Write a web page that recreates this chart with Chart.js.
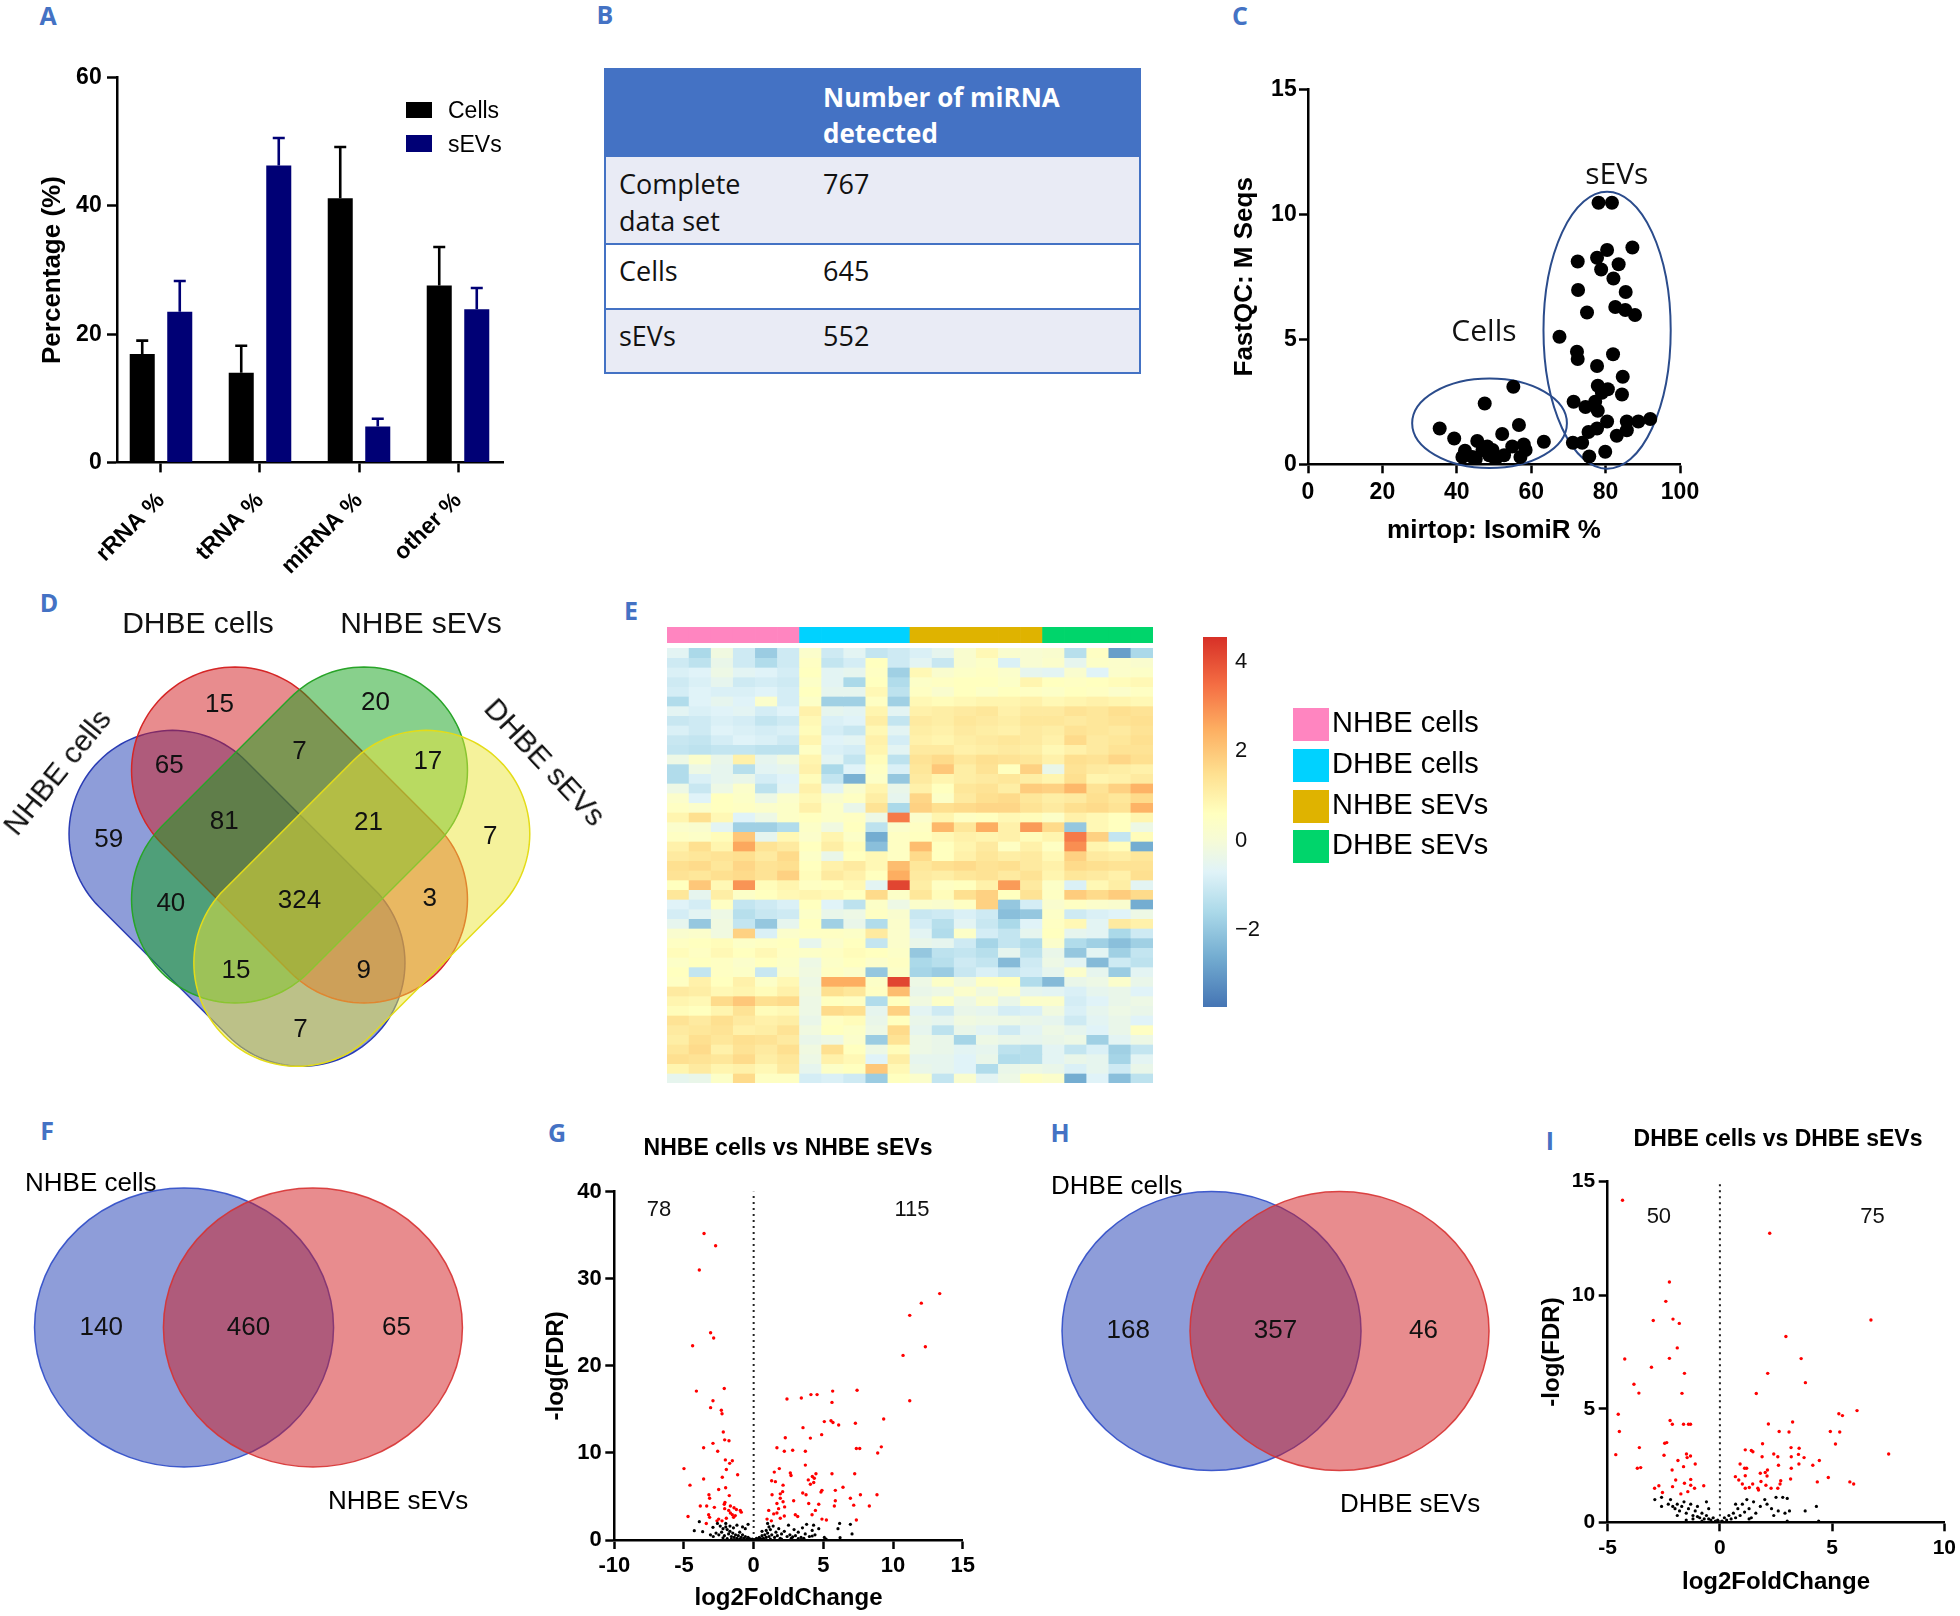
<!DOCTYPE html>
<html><head><meta charset="utf-8">
<script src="https://cdn.jsdelivr.net/npm/chart.js@4.4.1/dist/chart.umd.min.js"></script>
<style>
html,body{margin:0;padding:0;background:#fff;}
body{width:1960px;height:1616px;position:relative;overflow:hidden;font-family:'Liberation Sans',Arial,sans-serif;color:#111;}
.t{position:absolute;white-space:nowrap;}
.c{position:absolute;white-space:nowrap;transform:translate(-50%,-50%);}
.plab{position:absolute;white-space:nowrap;transform:translate(-50%,-50%);font:bold 25px 'Open Sans',sans-serif;color:#4472C4;}
</style></head><body>
<script>
// ---------------- DATA ----------------
// Panel A
const rnaCategories = ['rRNA %', 'tRNA %', 'miRNA %', 'other %'];
const cellsPct = [16.9, 14.0, 41.2, 27.6];
const cellsErr = [2.1, 4.2, 8.0, 6.0];
const sevsPct = [23.5, 46.3, 5.6, 23.9];
const sevsErr = [4.8, 4.3, 1.2, 3.3];
// Panel B
const tableRowLabels = ['Complete\ndata set', 'Cells', 'sEVs'];
const tableCounts = [767, 645, 552];
// Panel C
const cellsIsomiR = [35.4,39.3,42.2,41.5,44.2,45.5,47.5,46.9,48.2,49.6,50.4,52.2,52.7,55.2,54.9,56.7,57.1,58.0,58.5,63.4,48.7,45.1];
const cellsMSeqs  = [1.43,1.03,0.54,0.29,0.29,0.93,2.43,0.57,0.71,0.57,0.21,1.21,0.36,3.1,0.71,1.57,0.29,0.79,0.57,0.9,0.36,0.21];
const sevsIsomiR = [78.1,81.7,80.4,87.2,72.5,77.7,78.8,83.5,82.1,72.6,85.4,75.0,82.6,85.3,87.9,67.6,72.3,72.5,82.0,77.7,84.6,77.9,80.6,84.4,71.4,74.6,77.2,77.9,80.4,75.4,77.7,85.7,88.8,92.0,85.7,83.0,71.2,73.7,79.9,75.6,79.0];
const sevsMSeqs  = [10.46,10.46,8.57,8.67,8.11,8.26,7.79,8.0,7.43,6.97,6.89,6.07,6.29,6.17,5.97,5.1,4.5,4.21,4.4,3.93,3.5,3.14,3.0,2.79,2.5,2.29,2.5,2.14,1.71,1.29,1.43,1.71,1.71,1.81,1.36,1.14,0.86,0.86,0.5,0.31,2.86];
// Panel D (4-set Venn region counts)
const vennDSets = ['NHBE cells', 'DHBE cells', 'NHBE sEVs', 'DHBE sEVs'];
const vennDCounts = [15, 20, 65, 7, 17, 59, 81, 21, 7, 40, 324, 3, 15, 9, 7];
// Panel E heatmap (z-scores; rows top->bottom; cols: 6 NHBE cells, 5 DHBE cells, 6 NHBE sEVs, 5 DHBE sEVs)
const heatGroups = ['NHBE cells', 'DHBE cells', 'NHBE sEVs', 'DHBE sEVs'];
const heatGroupSizes = [6, 5, 6, 5];
const heatRows = [
[-0.6,-1.6,-0.2,-1.0,-1.9,-1.0, 0.3,-1.0,-0.6,-1.2,-1.0, -0.8,-0.5,0.2,0.8,0.2,0.1, 0.2,-1.4,0.5,-2.9,-1.6],
[-1.0,-1.3,-0.4,-1.0,-1.5,-1.0, 0.5,-1.2,-0.9,0.6,-1.0, -0.6,-1.1,0.2,0.4,-0.8,0.1, 0.3,-0.5,0.4,0.3,0.2],
[-0.8,-0.7,-0.3,-0.6,-0.7,-0.9, 0.6,-0.6,-0.5,0.5,-1.8, 0.8,0.2,0.4,0.5,0.3,-0.5, -0.6,0.2,-0.7,0.3,0.4],
[-1.0,-0.8,-0.5,-1.0,-0.9,-1.0, 0.4,-0.6,-1.6,0.6,-1.5, 0.4,0.5,0.6,0.6,0.4,0.9, 0.6,0.5,0.6,0.7,0.8],
[-0.9,-0.7,-0.8,-0.8,-0.7,-0.9, 0.6,-0.5,-0.5,0.8,-1.3, 0.5,0.2,0.6,0.4,0.6,0.5, 0.4,0.6,0.5,0.3,0.5],
[-1.5,-0.7,-0.5,-0.7,0.3,-0.9, 0.4,-1.8,-1.8,0.5,-1.8, 0.8,0.7,0.8,0.9,0.9,1.0, 0.8,0.9,1.0,0.9,0.8],
[-0.6,-0.8,-0.7,-0.6,-0.9,-0.7, 1.0,-0.5,-0.6,0.9,-0.6, 1.0,1.1,1.2,1.3,1.0,1.2, 1.2,1.4,1.3,1.5,1.4],
[-1.1,-1.0,-0.8,-0.9,-1.2,-1.0, 0.8,-0.8,-0.7,1.1,-1.2, 1.2,1.1,1.3,1.2,1.1,1.3, 1.3,1.2,1.3,1.4,1.5],
[-0.8,-1.0,-0.7,-0.8,-0.9,-0.8, 0.7,-0.9,-1.1,0.8,-0.6, 1.1,1.0,1.2,1.1,1.0,1.2, 1.1,1.4,1.3,1.2,1.4],
[-1.1,-1.2,-0.9,-0.7,-0.8,-1.0, 0.9,-0.7,-0.6,1.0,-0.9, 1.0,0.9,1.1,1.2,1.3,1.2, 1.0,1.6,1.2,1.3,1.5],
[-1.2,-1.3,-1.2,-1.2,-1.3,-1.3, 0.5,-0.8,-0.9,0.9,-0.6, 1.2,1.2,1.0,1.1,1.2,1.1, 0.8,1.0,1.2,1.4,1.4],
[-0.3,0.3,-0.4,1.0,-0.5,-0.2, 0.9,-0.6,-1.2,0.7,-1.3, 1.4,1.6,1.3,1.5,1.4,1.3, 1.0,1.5,1.4,1.7,1.5],
[-1.5,-0.3,-0.5,-1.4,-0.6,-0.5, 1.0,-1.6,-0.7,0.5,-0.8, 1.3,2.0,1.1,1.4,0.6,1.8, -0.4,1.4,1.2,1.1,1.0],
[-1.5,-0.8,-0.5,-0.4,-0.9,-0.7, 0.7,-1.2,-2.5,0.4,-2.0, 1.2,0.9,1.1,1.2,1.3,1.1, 0.9,1.5,0.9,1.0,1.2],
[-0.3,-1.1,-0.3,0.3,-1.3,-0.6, 1.0,-0.6,0.2,0.9,-0.4, 1.0,0.6,1.3,1.4,1.1,1.9, 1.8,2.3,1.4,1.8,2.4],
[0.3,-0.7,0.6,0.4,-0.3,0.3, 0.8,0.2,0.5,1.1,-0.5, 1.7,0.4,1.2,1.5,1.6,1.3, 1.1,1.2,1.5,1.3,1.6],
[0.5,0.3,0.6,0.5,0.3,0.4, 1.0,0.4,-0.4,1.4,-1.6, 1.8,1.5,1.6,1.7,1.7,1.4, 1.2,1.5,1.6,1.4,2.4],
[0.9,1.5,0.8,-0.7,-0.3,0.4, 0.6,0.4,0.5,-0.3,3.3, 0.3,0.9,0.5,0.6,0.8,0.7, 0.4,1.0,0.8,0.6,0.9],
[0.3,0.2,-0.6,-1.8,-1.8,-1.5, 0.4,-0.2,0.6,-1.3,0.3, 0.5,2.3,1.3,2.5,1.0,2.8, 1.6,-2.0,0.8,0.6,-0.3],
[0.5,0.4,0.7,2.0,-0.5,0.8, 0.3,0.9,0.4,-2.6,0.5, 0.6,0.8,1.0,0.9,1.0,0.7, 0.9,3.3,1.8,-1.2,0.7],
[1.0,1.5,0.9,2.6,1.4,1.2, 0.6,1.1,0.7,-2.2,0.5, 2.2,0.6,0.9,1.2,0.5,1.0, 0.5,3.0,0.9,0.7,-2.6],
[1.2,1.3,1.4,1.5,1.2,1.6, 0.4,-0.4,0.6,0.8,0.5, 1.6,0.6,1.0,1.3,1.1,1.2, 0.8,1.8,1.2,1.1,1.3],
[1.5,1.6,1.3,1.7,1.4,1.5, 0.6,1.0,1.2,0.8,2.2, 1.3,1.5,1.6,1.4,1.5,1.2, 1.0,1.6,1.5,1.4,1.4],
[1.4,1.3,1.5,1.6,1.4,1.8, 0.7,1.2,1.0,0.6,2.5, 1.2,1.1,1.3,1.4,1.2,1.4, 0.9,1.3,1.2,1.0,1.5],
[0.6,2.0,0.8,2.9,0.7,0.9, 0.5,0.6,0.8,-0.6,4.2, 1.1,0.5,0.6,1.0,2.8,1.2, 0.4,-0.8,0.8,1.1,-0.6],
[1.3,-0.5,1.1,0.4,0.6,0.8, 0.9,0.8,0.6,1.6,0.4, 1.3,0.7,1.5,1.8,0.6,1.4, 0.5,1.9,1.6,1.9,1.6],
[-0.7,-0.9,0.5,-1.2,-1.0,-0.8, 0.6,-0.7,-1.3,0.4,-0.3, 0.3,0.2,0.5,1.8,-2.0,-0.9, 0.2,0.5,0.3,0.2,-2.6],
[-0.9,-0.6,-0.3,-1.4,-1.1,-1.0, 0.4,-0.4,-0.3,0.5,0.2, -1.1,-1.0,-0.8,-1.0,-2.2,-2.0, 0.4,-1.0,-0.8,-0.7,-0.3],
[-0.5,-2.0,-0.2,-1.2,-2.0,-0.5, 0.6,-1.8,-0.4,-1.5,0.3, -0.9,-1.4,-0.6,-1.1,-1.6,-0.7, 0.5,0.8,-0.6,1.2,1.0],
[0.2,0.3,-0.2,1.8,-0.8,0.3, 0.5,0.5,0.4,1.2,0.3, -0.6,-1.5,0.4,-0.9,-1.2,-0.5, 0.6,-0.5,-0.6,-1.6,-1.0],
[0.5,0.6,0.7,0.4,0.5,0.6, -0.5,0.3,0.6,-1.2,0.3, -0.4,-0.5,-1.0,-1.7,-1.2,-1.5, 0.3,-1.5,-1.8,-2.2,-1.8],
[0.7,0.5,0.8,0.6,0.8,0.5, 0.4,0.5,0.7,0.6,0.4, -2.0,-1.3,-1.2,-1.4,-0.5,-1.3, -0.4,-2.0,-0.6,-1.8,-1.2],
[0.4,0.6,0.5,0.3,0.6,0.4, -0.3,0.4,0.6,0.3,0.5, -1.6,-1.4,-1.0,-1.2,-2.3,-1.0, -0.3,-0.6,-2.3,-1.0,-1.3],
[0.6,-1.2,0.5,0.4,-1.1,0.3, -0.2,0.5,0.3,-2.0,0.4, -1.7,-1.9,-1.1,-0.8,-1.1,-0.9, -0.5,0.3,-0.5,-1.9,-0.6],
[0.5,1.0,0.6,1.0,0.4,0.8, -0.3,2.5,2.5,0.4,4.2, -0.3,0.4,-0.2,0.5,0.6,-1.5, -2.3,-0.4,-0.3,0.3,-0.4],
[1.2,1.1,0.8,0.9,0.7,1.0, -0.2,1.5,1.3,0.5,2.2, -0.4,-0.3,0.3,-0.2,0.3,-0.5, -0.6,-0.8,-0.5,-0.4,-0.7],
[0.9,0.8,1.6,2.0,1.5,1.6, -0.3,0.6,0.5,-1.5,0.6, -0.2,0.4,-0.3,0.2,-0.4,0.3, 0.3,-0.9,-0.7,-0.4,-0.3],
[0.7,0.6,0.9,1.4,0.7,0.8, -0.3,1.6,1.5,-0.5,1.8, -0.6,-1.0,-0.4,-0.5,-0.9,-0.8, -0.2,-0.8,-0.5,-0.3,-0.4],
[1.4,1.2,1.5,1.2,1.0,1.1, -0.4,0.5,0.7,-0.4,0.6, -0.4,-0.5,-0.2,-0.3,-0.3,-0.4, -0.5,-1.0,-0.6,-0.4,-0.7],
[1.2,1.3,1.4,1.0,1.1,1.4, -0.2,0.6,0.4,-0.3,1.6, -0.5,-1.3,-0.4,-0.6,-1.0,-0.6, -0.3,-0.5,-0.7,-0.4,0.5],
[1.1,1.5,1.3,1.5,1.4,1.2, -0.4,-0.3,0.3,-1.9,1.4, -0.3,-0.4,-1.7,-0.3,-0.4,-0.5, -0.4,-0.3,-1.8,-0.6,-0.3],
[1.3,1.6,1.0,1.4,1.2,1.5, -0.2,1.5,0.6,-0.3,0.7, -0.3,-0.4,-0.6,-0.5,-1.3,-1.4, -0.6,-1.2,-0.8,-1.8,-1.2],
[1.5,1.4,1.3,1.6,1.1,1.3, -0.3,1.0,0.8,-0.7,1.1, -0.5,-0.5,-0.7,-0.4,-1.5,-1.4, -0.6,-0.4,-0.5,-1.7,-0.6],
[0.9,1.2,0.9,1.0,0.8,1.2, -0.5,0.4,0.6,2.0,0.8, -0.4,-0.5,-0.7,-1.5,-0.4,-0.3, -0.4,-0.8,-0.5,-1.0,-0.4],
[-0.5,-0.4,0.4,1.6,0.5,0.5, -0.9,-0.8,-1.0,-1.9,0.6, 0.3,-1.2,0.2,-0.6,-0.3,0.5, 0.3,-2.6,-0.7,-2.2,-1.3]
];
const colorbarTicks = [-2, 0, 2, 4];
// Panels F, H
const vennFSets = ['NHBE cells', 'NHBE sEVs'];
const vennFCounts = [140, 460, 65];
const vennHSets = ['DHBE cells', 'DHBE sEVs'];
const vennHCounts = [168, 357, 46];
// Panel G volcano: [log2FC, -log(FDR)]
const gCounts = [78, 115];
const gSig = [[-3.56,35.2],[-2.73,33.8],[-3.90,31.0],[-3.09,23.8],[-2.87,23.2],[-4.38,22.3],[-4.11,17.1],[-2.11,17.4],[-2.92,16.0],[-3.09,15.2],[-2.32,14.9],[-2.27,14.5],[-2.18,12.4],[-2.08,11.5],[-1.77,11.4],[-2.92,11.1],[-3.59,10.6],[-2.58,10.2],[-2.03,9.2],[-1.53,9.1],[-1.72,8.8],[-1.96,8.1],[-5.0,8.2],[-1.15,7.5],[-2.25,7.2],[-3.59,7.0],[-4.57,6.3],[-2.01,6.0],[-2.51,5.8],[-3.21,5.2],[-3.16,4.8],[-1.75,5.1],[-2.06,4.3],[-2.11,4.1],[-3.83,3.9],[-3.37,3.9],[-2.82,3.75],[-1.67,3.9],[-1.41,3.7],[-2.08,3.6],[-1.24,3.5],[-1.79,3.4],[-0.96,3.4],[-0.89,3.2],[-1.67,3.1],[-4.71,2.7],[-3.23,2.9],[-1.32,2.8],[-1.53,2.9],[-1.96,2.5],[-3.16,2.6],[-2.51,2.4],[-2.63,2.2],[-2.27,2.2],[-1.44,2.6],[-3.40,1.9],
[13.35,28.3],[12.03,27.2],[11.2,25.8],[12.32,22.2],[10.72,21.2],[11.2,16.0],[2.39,16.2],[3.42,16.3],[4.11,16.7],[4.55,16.7],[5.67,17.1],[7.42,17.2],[5.62,15.8],[5.07,13.6],[5.55,13.7],[5.69,13.5],[6.1,13.2],[7.30,13.4],[9.33,13.9],[3.54,12.9],[2.27,11.75],[4.07,11.7],[4.88,12.1],[1.67,10.6],[2.2,10.2],[2.8,10.3],[3.71,10.2],[7.37,10.5],[7.61,10.5],[9.16,10.7],[8.9,10.0],[1.84,8.2],[3.71,8.6],[1.48,7.8],[2.63,7.7],[2.68,7.4],[4.47,7.6],[5.62,7.6],[7.25,7.6],[4.21,7.3],[4.35,7.1],[3.92,6.9],[1.29,6.8],[1.56,6.7],[4.07,6.4],[4.31,6.6],[2.11,6.3],[6.41,6.05],[5.86,5.7],[4.9,5.7],[4.83,5.5],[2.08,5.55],[1.91,5.3],[3.52,5.4],[3.76,5.2],[1.32,5.2],[8.85,5.2],[7.66,5.2],[1.91,4.8],[6.94,4.8],[2.11,4.4],[2.87,4.5],[5.86,4.5],[1.67,4.2],[3.95,4.2],[4.67,4.1],[5.79,3.9],[7.18,4.0],[8.3,3.9],[2.22,3.8],[1.79,3.6],[1.08,3.4],[4.43,3.4],[1.67,3.1],[1.44,3.0],[2.99,2.9],[3.16,2.7],[4.19,2.9],[2.2,2.75],[0.96,2.4],[1.27,2.2],[1.91,2.5],[4.9,2.4],[5.22,2.3],[7.37,2.3]];
const gNs = [[-3.9,2.1],[-3.66,0.96],[-4.26,1.07],[-2.92,1.45],[-2.6,1.9],[-2.4,1.6],[-2.2,1.3],[-2.0,1.5],[-1.9,1.2],[-1.7,1.0],[-2.7,0.8],[-2.5,0.6],[-2.3,0.9],[-2.1,0.5],[-1.8,0.7],[-1.6,0.4],[-1.5,0.8],[-1.4,0.3],[-1.3,0.6],[-1.2,0.2],[-1.1,0.5],[-1.0,0.9],[-0.9,0.3],[-0.8,0.6],[-0.7,0.2],[-0.6,0.4],[-0.5,0.1],[-0.4,0.3],[-0.3,0.15],[-0.2,0.05],[-0.1,0.1],[-0.6,1.3],[-0.8,1.5],[-1.2,1.7],[-2.9,0.4],[-3.1,0.6],[-2.2,0.25],[-1.9,0.15],[-1.6,0.1],[-1.0,0.1],[-0.4,1.8],[-1.45,1.4],[-2.0,1.9],[-1.7,1.6],
[0.1,0.05],[0.2,0.2],[0.3,0.1],[0.4,0.3],[0.5,0.15],[0.6,0.5],[0.7,0.2],[0.8,0.6],[0.9,0.3],[1.0,0.8],[1.1,0.4],[1.2,1.2],[1.3,0.6],[1.4,1.6],[1.5,0.3],[1.6,0.9],[1.7,0.5],[1.8,1.3],[1.9,0.2],[2.0,0.7],[2.2,1.0],[2.4,0.4],[2.5,1.7],[2.6,0.6],[2.7,0.2],[2.9,1.2],[3.0,0.5],[3.2,0.9],[3.4,0.3],[3.5,1.4],[3.7,0.7],[3.8,1.8],[4.0,0.4],[4.2,1.1],[4.4,0.6],[4.3,1.7],[4.67,1.3],[4.2,0.46],[5.07,0.3],[5.2,0.1],[6.17,1.9],[6.05,1.3],[6.2,0.27],[6.94,1.8],[7.06,0.7],[1.0,1.9],[0.6,1.0],[3.2,0.15],[2.0,0.1],[1.2,0.1],[1.1,1.5],[2.8,0.35],[3.6,0.2],[0.9,1.1]];
// Panel I volcano
const iCounts = [50, 75];
const iSig = [[-4.34,14.18],[2.22,12.73],[-2.25,10.58],[-2.41,9.73],[-2.97,8.89],[-2.09,8.95],[-1.81,8.76],[6.73,8.91],[2.94,8.18],[-1.90,7.68],[-4.24,7.19],[-2.25,7.22],[3.62,7.21],[-3.05,6.83],[-1.58,6.56],[2.13,6.56],[-3.83,6.08],[3.81,6.15],[-3.61,5.69],[-1.69,5.68],[1.62,5.67],[6.11,4.92],[-4.53,4.76],[5.3,4.78],[5.46,4.7],[-2.22,4.48],[3.24,4.42],[-2.12,4.32],[-1.62,4.32],[-1.4,4.32],[-1.31,4.32],[2.16,4.33],[-4.48,4.0],[2.64,4.0],[3.08,3.98],[4.92,4.0],[5.34,3.98],[-2.37,3.51],[-2.46,3.48],[1.9,3.46],[5.15,3.45],[-3.59,3.29],[1.13,3.19],[1.4,3.16],[1.47,3.11],[3.17,3.29],[3.53,3.26],[-4.64,2.98],[-2.49,2.95],[-1.49,3.01],[-1.31,2.92],[-1.46,2.85],[7.52,3.01],[2.4,3.01],[1.88,2.89],[2.58,2.89],[3.18,2.89],[3.5,2.99],[-1.87,2.72],[3.75,2.85],[-1.1,2.57],[0.9,2.57],[4.43,2.72],[2.61,2.51],[-1.62,2.45],[4.14,2.51],[3.52,2.57],[-3.68,2.38],[-3.53,2.41],[1.1,2.38],[1.19,2.38],[2.12,2.3],[2.02,2.19],[-2.13,2.3],[3.18,2.38],[1.8,2.16],[0.69,2.01],[1.13,2.05],[2.1,2.04],[4.83,1.97],[3.15,1.91],[0.84,1.86],[2.71,1.83],[-1.97,1.86],[-1.3,1.89],[5.79,1.78],[5.96,1.69],[4.34,1.78],[-1.58,1.72],[1.83,1.8],[1.0,1.69],[1.46,1.69],[-2.72,1.61],[-1.3,1.63],[-0.72,1.61],[2.05,1.63],[2.68,1.69],[-2.91,1.5],[-2.11,1.57],[1.13,1.5],[1.31,1.53],[1.69,1.5],[2.28,1.5],[2.58,1.5],[-1.13,1.5],[-1.43,1.35],[-2.56,1.31],[-1.74,1.25],[1.72,1.42]];
const iNs = [[-2.9,1.0],[-2.6,1.1],[-2.6,0.7],[-2.2,1.0],[-2.1,0.7],[-2.0,0.6],[-1.9,0.8],[-1.8,0.5],[-1.7,0.7],[-1.6,0.9],[-1.5,0.4],[-1.4,0.6],[-1.3,0.8],[-1.2,0.3],[-1.1,0.5],[-1.0,0.7],[-0.9,0.2],[-0.8,0.4],[-0.7,0.15],[-0.6,0.3],[-0.5,0.6],[-0.4,0.1],[-0.3,0.2],[-0.2,0.05],[-0.1,0.1],[-1.5,0.1],[-1.2,0.15],[-0.6,0.9],[-2.3,0.8],[-1.9,0.3],[-1.0,0.25],[-0.8,0.05],[-0.5,0.15],
[0.1,0.05],[0.2,0.2],[0.3,0.1],[0.4,0.3],[0.5,0.15],[0.6,0.4],[0.7,0.2],[0.8,0.6],[0.9,0.3],[1.0,0.8],[1.1,0.45],[1.2,1.0],[1.3,0.6],[1.4,0.2],[1.5,0.9],[1.6,0.4],[1.8,0.7],[2.0,1.0],[2.1,0.8],[2.3,0.6],[2.5,1.1],[2.6,0.5],[2.8,1.1],[2.9,0.4],[3.0,1.05],[3.1,0.5],[3.8,0.5],[4.3,0.7],[4.4,0.05],[0.7,0.8],[1.3,0.15],[2.4,0.3],[3.0,0.05]];

// ---------------- SETUP ----------------
Chart.defaults.font.family = "'Liberation Sans', Arial, sans-serif";
Chart.defaults.color = '#000';
Chart.defaults.animation = false;
Chart.defaults.responsive = false;
Chart.defaults.maintainAspectRatio = false;
Chart.defaults.plugins.legend.display = false;
Chart.defaults.plugins.tooltip.enabled = false;

function mkCanvas(left, top, w, h) {
  const c = document.createElement('canvas');
  c.width = w; c.height = h;
  c.style.cssText = 'position:absolute;left:' + left + 'px;top:' + top + 'px;width:' + w + 'px;height:' + h + 'px;';
  document.body.appendChild(c);
  return c;
}
function addText(txt, cls, x, y, css) {
  const d = document.createElement('div');
  d.className = cls; d.textContent = txt;
  d.style.left = x + 'px'; d.style.top = y + 'px';
  if (css) d.style.cssText += css;
  document.body.appendChild(d);
  return d;
}
function axis(o) {
  return {
    type: o.type || 'linear', min: o.min, max: o.max, offset: false, reverse: false,
    border: {display: true, color: '#000', width: 2.5},
    grid: {display: true, offset: false, drawOnChartArea: false, drawTicks: true, tickLength: o.tl || 10, tickWidth: 2.5, tickColor: '#000'},
    ticks: Object.assign({stepSize: o.step, color: '#000', font: {size: o.fs || 22, weight: 'bold'}, padding: o.pad == null ? 4 : o.pad, autoSkip: false, maxRotation: 0, minRotation: 0}, o.ticks || {}),
    title: {display: !!o.title, text: o.title || '', color: '#000', font: {size: o.tfs || 24, weight: o.tw || 'bold'}, padding: o.tpad || {top: 0, bottom: 0}},
    afterFit: o.afterFit,
    afterBuildTicks: o.afterBuildTicks
  };
}
function textPlugin(items) {
  return {
    id: 'textMarks',
    afterDatasetsDraw(chart) {
      const {ctx, scales: {x, y}} = chart;
      items.forEach(it => {
        ctx.save();
        ctx.font = it.font; ctx.fillStyle = it.color || '#111';
        ctx.textAlign = 'center'; ctx.textBaseline = 'middle';
        ctx.translate(x.getPixelForValue(it.x), y.getPixelForValue(it.y));
        ctx.fillText(String(it.text), 0, 0);
        ctx.restore();
      });
    }
  };
}

// ---------------- PANEL LETTERS ----------------
[['A',48,15],['B',605,14],['C',1240,15],['D',49,602],['E',631,610],['F',47,1130],['G',557,1132],['H',1060,1132],['I',1550,1140]]
  .forEach(p => addText(p[0], 'plab', p[1], p[2]));

// ---------------- PANEL A ----------------
const errorBars = {
  id: 'errorBars',
  afterDatasetsDraw(chart) {
    const {ctx, scales: {y}} = chart;
    chart.data.datasets.forEach((ds, di) => {
      const meta = chart.getDatasetMeta(di);
      meta.data.forEach((bar, i) => {
        const top = y.getPixelForValue(ds.data[i].y + ds.errors[i]);
        ctx.save();
        ctx.strokeStyle = ds.backgroundColor; ctx.lineWidth = 2.6;
        ctx.beginPath();
        ctx.moveTo(bar.x, bar.y); ctx.lineTo(bar.x, top);
        ctx.moveTo(bar.x - 6, top); ctx.lineTo(bar.x + 6, top);
        ctx.stroke(); ctx.restore();
      });
    });
  }
};
new Chart(mkCanvas(0, 0, 540, 640), {
  type: 'bar',
  data: {datasets: [
    {label: 'Cells', data: cellsPct.map((v, i) => ({x: i, y: v})), errors: cellsErr, backgroundColor: '#000000', borderWidth: 0, categoryPercentage: 0.758, barPercentage: 0.667},
    {label: 'sEVs', data: sevsPct.map((v, i) => ({x: i, y: v})), errors: sevsErr, backgroundColor: '#000075', borderWidth: 0, categoryPercentage: 0.758, barPercentage: 0.667}
  ]},
  options: {
    devicePixelRatio: 1,
    layout: {padding: {left: 20, top: 77.7, right: 37, bottom: 0}},
    scales: {
      x: axis({min: -0.4444, max: 3.4545, pad: 15, fs: 23, ticks: {minRotation: 45, maxRotation: 45, callback: v => rnaCategories[v]},
        afterBuildTicks: s => { s.ticks = rnaCategories.map((c, i) => ({value: i})); },
        afterFit: s => { s.height = 177.6; }}),
      y: axis({min: 0, max: 60, step: 20, pad: 5.3, fs: 23, title: 'Percentage (%)', tfs: 26, tw: 'bold', tpad: {top: 17.4, bottom: 0},
        afterFit: s => { s.width = 97; }})
    }
  },
  plugins: [errorBars]
});
// legend A
(function () {
  const items = [['Cells', '#000000', 101.7, 110], ['sEVs', '#000075', 135, 144]];
  items.forEach(it => {
    const b = document.createElement('div');
    b.style.cssText = 'position:absolute;left:406px;top:' + it[2] + 'px;width:26px;height:16.7px;background:' + it[1] + ';';
    document.body.appendChild(b);
    addText(it[0], 't', 448, it[3] - 14, 'font:23px "Liberation Sans",Arial,sans-serif;color:#000;line-height:28px;');
  });
})();

// ---------------- PANEL B (table) ----------------
(function () {
  const L = 604, T = 68, W = 537;
  function box(top, h, bg) {
    const d = document.createElement('div');
    d.style.cssText = 'position:absolute;left:' + L + 'px;top:' + top + 'px;width:' + W + 'px;height:' + h + 'px;background:' + bg + ';';
    document.body.appendChild(d);
  }
  box(68, 89, '#4472C4'); box(157, 87, '#E9EBF5'); box(244, 65, '#FFFFFF'); box(309, 65, '#E9EBF5');
  box(243, 2, '#4472C4'); box(308, 2, '#4472C4');
  const fr = document.createElement('div');
  fr.style.cssText = 'position:absolute;left:' + L + 'px;top:' + T + 'px;width:' + W + 'px;height:306px;border:2px solid #4472C4;box-sizing:border-box;';
  document.body.appendChild(fr);
  addText('Number of miRNA\ndetected', 't', 823, 79, 'font:bold 26px "Open Sans",sans-serif;color:#fff;line-height:36px;white-space:pre;');
  const rowTops = [165, 252, 317];
  tableRowLabels.forEach((lab, i) => {
    addText(lab, 't', 619, rowTops[i], 'font:27px "Open Sans",sans-serif;color:#111;line-height:37px;white-space:pre;');
    addText(String(tableCounts[i]), 't', 823, rowTops[i], 'font:27px "Open Sans",sans-serif;color:#111;line-height:37px;');
  });
})();

// ---------------- PANEL C ----------------
const clusterEllipses = {
  id: 'clusterEllipses',
  beforeDatasetsDraw(chart) {
    const {ctx, scales: {x, y}} = chart;
    const ells = [{cx: 48.8, cy: 1.64, rx: 20.8, ry: 1.79}, {cx: 80.4, cy: 5.36, rx: 17.1, ry: 5.54}];
    ctx.save(); ctx.strokeStyle = '#2B4C8C'; ctx.lineWidth = 2;
    ells.forEach(e => {
      const px = x.getPixelForValue(e.cx), py = y.getPixelForValue(e.cy);
      const rx = Math.abs(x.getPixelForValue(e.cx + e.rx) - px), ry = Math.abs(y.getPixelForValue(e.cy + e.ry) - py);
      ctx.beginPath(); ctx.ellipse(px, py, rx, ry, 0, 0, Math.PI * 2); ctx.stroke();
    });
    ctx.restore();
  }
};
new Chart(mkCanvas(1225, 30, 480, 530), {
  type: 'scatter',
  data: {datasets: [
    {label: 'Cells', data: cellsIsomiR.map((v, i) => ({x: v, y: cellsMSeqs[i]})), pointRadius: 7, backgroundColor: '#000', borderWidth: 0},
    {label: 'sEVs', data: sevsIsomiR.map((v, i) => ({x: v, y: sevsMSeqs[i]})), pointRadius: 7, backgroundColor: '#000', borderWidth: 0}
  ]},
  options: {
    devicePixelRatio: 1,
    layout: {padding: {left: 0, top: 59.3, right: 23, bottom: 0}},
    scales: {
      x: axis({min: 0, max: 100, step: 20, tl: 9, pad: 5.8, fs: 23, title: 'mirtop: IsomiR %', tfs: 26, tpad: {top: 0, bottom: 14}, afterFit: s => { s.height = 95.7; }}),
      y: axis({min: 0, max: 15, step: 5, tl: 9, pad: 2.3, fs: 23, title: 'FastQC: M Seqs', tfs: 26, tpad: {top: 4.4, bottom: 0}, afterFit: s => { s.width = 83; }})
    }
  },
  plugins: [clusterEllipses, textPlugin([
    {x: 47.3, y: 5.29, text: 'Cells', font: '30px "Open Sans", sans-serif'},
    {x: 83, y: 11.54, text: 'sEVs', font: '30px "Open Sans", sans-serif'}
  ])]
});

// ---------------- PANEL D (4-set Venn) ----------------
(function () {
  const shapes = [
    {cx: -0.604, cy: -0.612, ang: -45, fill: 'rgba(30,60,180,0.5)', stroke: '#2a3cb4'},
    {cx: 0, cy: 0, ang: -45, fill: 'rgba(210,25,30,0.5)', stroke: '#d52626'},
    {cx: 0, cy: 0, ang: 45, fill: 'rgba(17,161,25,0.5)', stroke: '#28a428'},
    {cx: 0.602, cy: -0.612, ang: 45, fill: 'rgba(235,229,55,0.5)', stroke: '#e4dc18'}
  ];
  const R = 1, HL = 0.881;
  const anchors = [[-0.773,1.256],[0.735,1.278],[-1.259,0.667],[0,0.805],[1.24,0.708],[-1.843,-0.042],[-0.728,0.129],[0.667,0.119],[1.844,-0.016],[-1.243,-0.667],[0,-0.635],[1.259,-0.612],[-0.613,-1.311],[0.621,-1.311],[0.01,-1.884]];
  const capsules = {
    id: 'capsules',
    beforeDatasetsDraw(chart) {
      const {ctx, scales: {x, y}} = chart;
      shapes.forEach(s => {
        const a = s.ang * Math.PI / 180, ux = Math.cos(a), uy = Math.sin(a);
        const e1 = [s.cx + HL * ux, s.cy + HL * uy], e2 = [s.cx - HL * ux, s.cy - HL * uy];
        ctx.save(); ctx.beginPath();
        const N = 60;
        for (let i = 0; i <= N; i++) {
          const t = a - Math.PI / 2 + Math.PI * i / N;
          const px = x.getPixelForValue(e1[0] + R * Math.cos(t)), py = y.getPixelForValue(e1[1] + R * Math.sin(t));
          if (i === 0) ctx.moveTo(px, py); else ctx.lineTo(px, py);
        }
        for (let i = 0; i <= N; i++) {
          const t = a + Math.PI / 2 + Math.PI * i / N;
          ctx.lineTo(x.getPixelForValue(e2[0] + R * Math.cos(t)), y.getPixelForValue(e2[1] + R * Math.sin(t)));
        }
        ctx.closePath();
        ctx.fillStyle = s.fill; ctx.fill();
        ctx.strokeStyle = s.stroke; ctx.lineWidth = 1.5; ctx.stroke();
        ctx.restore();
      });
    }
  };
  new Chart(mkCanvas(0, 640, 560, 460), {
    type: 'scatter',
    data: {datasets: [{data: anchors.map((p, i) => ({x: p[0], y: p[1], n: vennDCounts[i]})), pointRadius: 0}]},
    options: {
      devicePixelRatio: 1,
      layout: {padding: 0, autoPadding: false},
      scales: {x: {display: false, min: -2.894, max: 2.517}, y: {display: false, min: -2.560, max: 1.884}}
    },
    plugins: [capsules, textPlugin(anchors.map((p, i) => ({x: p[0], y: p[1], text: vennDCounts[i], font: '26px "Liberation Sans", Arial, sans-serif', color: '#111'})))]
  });
  const f = 'font:30px "Liberation Sans",Arial,sans-serif;color:#111;';
  addText(vennDSets[1], 'c', 198, 623, f);
  addText(vennDSets[2], 'c', 421, 623, f);
  addText(vennDSets[0], 'c', 57, 772, f + 'transform:translate(-50%,-50%) rotate(-51deg);');
  addText(vennDSets[3], 'c', 545, 762, f + 'transform:translate(-50%,-50%) rotate(47deg);');
})();

// ---------------- PANEL E (heatmap) ----------------
const zMin = -3.73, zMax = 4.56;
const zStops = [[-3.73,'#4575b4'],[-2.6,'#74add1'],[-1.6,'#abd9e9'],[-0.7,'#e0f3f8'],[0,'#f6fbd6'],[0.6,'#ffffbf'],[1.5,'#fee090'],[2.5,'#fdae61'],[3.5,'#f46d43'],[4.56,'#d73027']];
function hex2rgb(h) { return [parseInt(h.substr(1,2),16), parseInt(h.substr(3,2),16), parseInt(h.substr(5,2),16)]; }
function zColor(v) {
  if (v <= zStops[0][0]) return zStops[0][1];
  for (let i = 1; i < zStops.length; i++) {
    if (v <= zStops[i][0]) {
      const t = (v - zStops[i-1][0]) / (zStops[i][0] - zStops[i-1][0]);
      const a = hex2rgb(zStops[i-1][1]), b = hex2rgb(zStops[i][1]);
      return 'rgb(' + a.map((c, k) => Math.round(c + (b[k] - c) * t)).join(',') + ')';
    }
  }
  return zStops[zStops.length - 1][1];
}
const groupColors = ['#FF85C0', '#00D2FF', '#DFB300', '#00D56B'];
const heatColGroup = heatGroupSizes.flatMap((n, g) => Array.from({length: n}, () => g));
const heatColLabels = heatColGroup.map((g, i) => heatGroups[g] + ' ' + (i + 1));
// annotation bar
new Chart(mkCanvas(667, 627, 486, 16), {
  type: 'bar',
  data: {labels: heatColLabels, datasets: [{data: heatColGroup.map(() => 1), backgroundColor: heatColGroup.map(g => groupColors[g]), borderWidth: 0, barPercentage: 1, categoryPercentage: 1}]},
  options: {devicePixelRatio: 1, layout: {padding: 0}, scales: {x: {display: false}, y: {display: false, min: 0, max: 1}}}
});
// heatmap body
new Chart(mkCanvas(667, 648, 486, 435), {
  type: 'bar',
  data: {labels: heatColLabels, datasets: heatRows.map((row, r) => ({
    label: 'miRNA ' + (r + 1), data: row.map(() => 1), backgroundColor: row.map(zColor),
    borderWidth: 0, barPercentage: 1, categoryPercentage: 1
  }))},
  options: {devicePixelRatio: 1, layout: {padding: 0},
    scales: {x: {display: false, stacked: true}, y: {display: false, stacked: true, reverse: true, min: 0, max: heatRows.length}}}
});
// colorbar
new Chart(mkCanvas(1195, 630, 100, 390), {
  type: 'bar',
  data: {labels: ['z'], datasets: [{data: [[zMin, zMax]], borderWidth: 0, barPercentage: 1, categoryPercentage: 1,
    backgroundColor: c => {
      const ch = c.chart; const ys = ch.scales.y;
      if (!ch.chartArea || !ys) return '#ffffbf';
      const g = ch.ctx.createLinearGradient(0, ys.getPixelForValue(zMin), 0, ys.getPixelForValue(zMax));
      zStops.forEach(s => g.addColorStop((s[0] - zMin) / (zMax - zMin), s[1]));
      return g;
    }}]},
  options: {devicePixelRatio: 1,
    layout: {padding: {left: 8, top: 7, right: 8, bottom: 13}},
    scales: {
      x: {display: false},
      y: {position: 'right', min: zMin, max: zMax, border: {display: false}, grid: {display: false, drawTicks: false},
        ticks: {padding: 8, color: '#111', font: {size: 22}, callback: v => (v < 0 ? '\u2212' + Math.abs(v) : String(v))},
        afterBuildTicks: s => { s.ticks = colorbarTicks.map(v => ({value: v})); },
        afterFit: s => { s.width = 60; s.paddingTop = 0; s.paddingBottom = 0; }}
    }}
});
// legend E
(function () {
  const tops = [708, 749, 790, 830];
  heatGroups.forEach((g, i) => {
    const b = document.createElement('div');
    b.style.cssText = 'position:absolute;left:1293px;top:' + tops[i] + 'px;width:36px;height:33px;background:' + groupColors[i] + ';';
    document.body.appendChild(b);
    addText(g, 't', 1332, tops[i] - 3, 'font:29px "Liberation Sans",Arial,sans-serif;color:#000;line-height:34px;');
  });
})();

// ---------------- PANELS F & H (2-set Venn) ----------------
function venn2(canvas, xr, yr, d, counts) {
  const circ = {
    id: 'circ',
    beforeDatasetsDraw(chart) {
      const {ctx, scales: {x, y}} = chart;
      [[-d, 'rgba(30,60,180,0.5)', 'rgba(45,75,200,0.9)'], [d, 'rgba(210,25,30,0.5)', 'rgba(215,50,50,0.9)']].forEach(c => {
        const px = x.getPixelForValue(c[0]), py = y.getPixelForValue(0);
        const rx = Math.abs(x.getPixelForValue(c[0] + 1) - px), ry = Math.abs(y.getPixelForValue(0.933) - py);
        ctx.save(); ctx.beginPath(); ctx.ellipse(px, py, rx, ry, 0, 0, Math.PI * 2);
        ctx.fillStyle = c[1]; ctx.fill(); ctx.strokeStyle = c[2]; ctx.lineWidth = 1.5; ctx.stroke(); ctx.restore();
      });
    }
  };
  const anchors = [-0.985, 0, 0.99];
  new Chart(canvas, {
    type: 'scatter',
    data: {datasets: [{data: anchors.map((a, i) => ({x: a, y: 0, n: counts[i]})), pointRadius: 0}]},
    options: {devicePixelRatio: 1, layout: {padding: 0, autoPadding: false},
      scales: {x: {display: false, min: xr[0], max: xr[1]}, y: {display: false, min: yr[0], max: yr[1]}}},
    plugins: [circ, textPlugin(anchors.map((a, i) => ({x: a, y: 0, text: counts[i], font: '26px "Liberation Sans", Arial, sans-serif', color: '#111'})))]
  });
}
venn2(mkCanvas(0, 1150, 520, 466), [-1.662, 1.816], [-1.930, 1.187], 0.431, vennFCounts);
venn2(mkCanvas(1020, 1150, 510, 466), [-1.709, 1.702], [-1.906, 1.211], 0.428, vennHCounts);
const vf = 'font:26px "Liberation Sans",Arial,sans-serif;color:#000;line-height:30px;';
addText(vennFSets[0], 't', 25, 1167, vf);
addText(vennFSets[1], 't', 328, 1485, vf);
addText(vennHSets[0], 't', 1051, 1170, vf);
addText(vennHSets[1], 't', 1340, 1488, vf);

// ---------------- PANELS G & I (volcano) ----------------
function zeroLinePlugin() {
  return {
    id: 'zeroLine',
    beforeDatasetsDraw(chart) {
      const {ctx, scales: {x, y}} = chart;
      const px = x.getPixelForValue(0);
      ctx.save(); ctx.setLineDash([2, 4]); ctx.lineWidth = 2; ctx.strokeStyle = '#222';
      ctx.beginPath(); ctx.moveTo(px, y.getPixelForValue(y.min)); ctx.lineTo(px, y.getPixelForValue(y.max)); ctx.stroke();
      ctx.restore();
    }
  };
}
function volcano(canvas, sig, ns, o) {
  new Chart(canvas, {
    type: 'scatter',
    data: {datasets: [
      {label: 'ns', data: ns.map(p => ({x: p[0], y: p[1]})), pointRadius: 1.6, backgroundColor: '#000', borderWidth: 0},
      {label: 'sig', data: sig.map(p => ({x: p[0], y: p[1]})), pointRadius: 1.7, backgroundColor: '#ff0000', borderWidth: 0}
    ]},
    options: {devicePixelRatio: 1,
      layout: {padding: o.padding},
      scales: {
        x: axis({min: o.xr[0], max: o.xr[1], step: 5, tl: 9, pad: 4, fs: o.fs, title: 'log2FoldChange', tfs: 24, tpad: {top: 0, bottom: o.xtp}, afterFit: s => { s.height = o.xh; }}),
        y: axis({min: o.yr[0], max: o.yr[1], step: o.ystep, tl: 9, pad: 3.6, fs: o.fs, title: '-log(FDR)', tfs: 24, tpad: {top: o.ytp, bottom: 0}, afterFit: s => { s.width = o.yw; }})
      }},
    plugins: [zeroLinePlugin(), textPlugin(o.counts)]
  });
}
volcano(mkCanvas(540, 1120, 440, 496), gSig, gNs, {
  padding: {left: 0, top: 71.7, right: 17.3, bottom: 0}, xr: [-10, 15], yr: [0, 40], ystep: 10, fs: 22,
  xh: 76, yw: 74.3, xtp: 3.6, ytp: 2.3,
  counts: [{x: -6.8, y: 37.9, text: gCounts[0], font: '22px "Liberation Sans", Arial, sans-serif'}, {x: 11.36, y: 37.9, text: gCounts[1], font: '22px "Liberation Sans", Arial, sans-serif'}]
});
volcano(mkCanvas(1530, 1120, 430, 496), iSig, iNs, {
  padding: {left: 0, top: 61.7, right: 12.7, bottom: 0}, xr: [-5, 10], yr: [0, 15], ystep: 5, fs: 21,
  xh: 93.7, yw: 77.7, xtp: 19.6, ytp: 7.6,
  counts: [{x: -2.72, y: 13.46, text: iCounts[0], font: '22px "Liberation Sans", Arial, sans-serif'}, {x: 6.8, y: 13.46, text: iCounts[1], font: '22px "Liberation Sans", Arial, sans-serif'}]
});
addText('NHBE cells vs NHBE sEVs', 'c', 788, 1147, 'font:bold 23px "Liberation Sans",Arial,sans-serif;color:#000;');
addText('DHBE cells vs DHBE sEVs', 'c', 1778, 1138, 'font:bold 23px "Liberation Sans",Arial,sans-serif;color:#000;');
</script>
</body></html>
